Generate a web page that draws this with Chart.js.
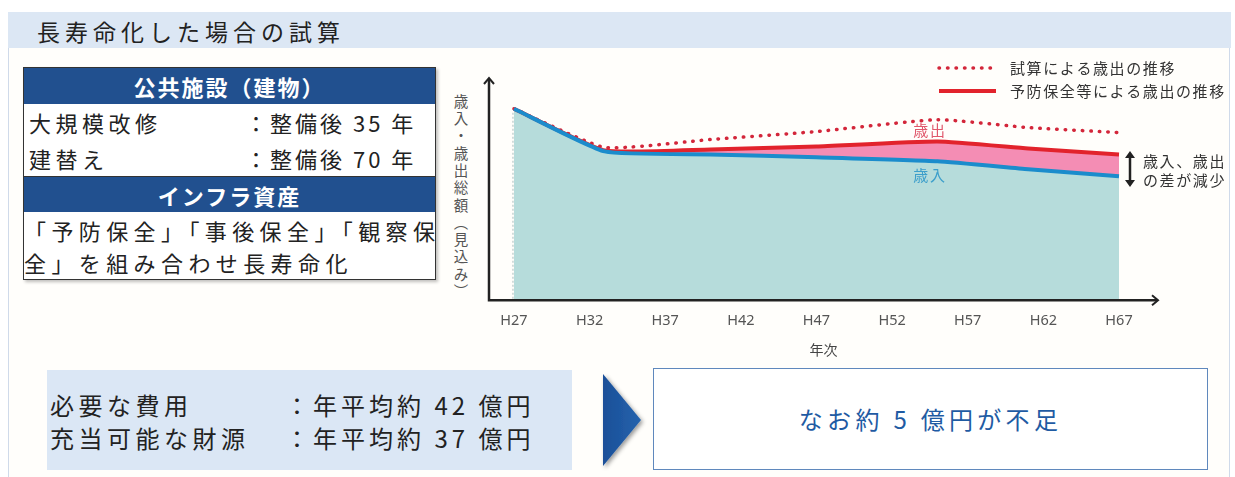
<!DOCTYPE html>
<html lang="ja">
<head>
<meta charset="utf-8">
<title>長寿命化した場合の試算</title>
<script src="https://cdn.jsdelivr.net/npm/chart.js@4.4.1/dist/chart.umd.min.js"></script>
<style>
  body { margin: 0; width: 1235px; height: 477px; overflow: hidden; background: #fff; position: relative;
         font-family: 'Noto Sans CJK JP', 'Noto Sans', sans-serif; color: #222; }
  .abs { position: absolute; }
  #panel { left: 8px; top: 12px; width: 1222px; height: 470px; border: 1px solid #cfdaea; background: #fffefb; box-sizing: border-box; }
  #head { left: 8px; top: 12px; width: 1223px; height: 36px; background: #dce7f4; }
  #head span { position: absolute; left: 29px; top: 0; font-size: 23px; line-height: 38px; letter-spacing: 5px; color: #222; }

  #table { left: 23px; top: 67px; width: 413px; height: 213px; border: 1.5px solid #333; box-sizing: border-box;
           background: #fff; box-shadow: 2px 2px 3px rgba(0,0,0,0.25); }
  #table .hdr { position: absolute; left: 0; width: 100%; background: #21508f; color: #fff; font-weight: bold;
                font-size: 22px; letter-spacing: 2px; text-align: center; }
  #table .row { position: absolute; left: 0; width: 100%; font-size: 22px; letter-spacing: 4.5px; white-space: nowrap; }
  #table .row .r { position: absolute; left: 221px; letter-spacing: 3px; }

  #need { left: 47px; top: 370px; width: 525px; height: 100px; background: #dbe7f5; }
  #need div { position: absolute; left: 3px; font-size: 24px; letter-spacing: 4.5px; white-space: nowrap; line-height: 32px; }
  #need .r { left: 238px; letter-spacing: 4px; }

  #result { left: 653px; top: 368px; width: 555px; height: 102px; border: 1px solid #5f88bd; box-sizing: border-box; background: #fff;
            color: #1f5ba3; font-size: 24px; letter-spacing: 4.3px; text-align: center; line-height: 100px; }

  #ytitle { left: 453px; top: 94px; writing-mode: vertical-rl; font-size: 14.5px; letter-spacing: 2.8px; color: #555; line-height: 1; }
  #chart { left: 440px; top: 55px; }
</style>
</head>
<body>
<div id="panel" class="abs"></div>
<div id="head" class="abs"><span>長寿命化した場合の試算</span></div>

<div id="table" class="abs">
  <div class="hdr" style="top:0;height:36px;line-height:36px;">公共施設（建物）</div>
  <div class="row" style="top:36px;height:37px;line-height:37px;"><span style="padding-left:5px">大規模改修</span><span class="r">：整備後 35 年</span></div>
  <div class="row" style="top:73px;height:35px;line-height:35px;"><span style="padding-left:5px">建替え</span><span class="r">：整備後 70 年</span></div>
  <div class="hdr" style="top:108px;height:36px;line-height:36px;border-top:1.5px solid #333;box-sizing:border-box;">インフラ資産</div>
  <div class="row" style="top:144px;height:34px;line-height:36px;letter-spacing:5.4px;">「予防保全」「事後保全」「観察保</div>
  <div class="row" style="top:178px;height:34px;line-height:32px;letter-spacing:5.4px;">全」を組み合わせ長寿命化</div>
</div>

<div id="ytitle" class="abs">歳入・歳出総額（見込み）</div>
<canvas id="chart" class="abs" width="795" height="310"></canvas>

<div id="need" class="abs">
  <div style="top:19px">必要な費用</div><div class="r" style="top:19px">：年平均約 42 億円</div>
  <div style="top:52px">充当可能な財源</div><div class="r" style="top:52px">：年平均約 37 億円</div>
</div>

<svg class="abs" style="left:596px;top:368px;overflow:visible" width="56" height="104">
  <defs>
    <linearGradient id="ag" x1="0" y1="0" x2="1" y2="0">
      <stop offset="0" stop-color="#1a4f98"/><stop offset="1" stop-color="#2563ad"/>
    </linearGradient>
    <filter id="sh" x="-50%" y="-20%" width="200%" height="140%">
      <feDropShadow dx="2" dy="2" stdDeviation="2" flood-color="#000" flood-opacity="0.4"/>
    </filter>
  </defs>
  <polygon points="7,6 45,52 7,98" fill="url(#ag)" filter="url(#sh)"/>
</svg>

<div id="result" class="abs">なお約 5 億円が不足</div>

<script>
// 年次（平成）と各系列の値（グラフから読み取った相対値）
const years = [27, 33, 40, 47, 55, 61, 67];
const revenue = [96.5, 75, 73.5, 72, 70, 66, 62.5];              // 歳入
const expenditureMaint = [96.5, 75.5, 76, 77.5, 80, 76.5, 73.5]; // 予防保全等による歳出
const expenditureTrial = [96.5, 77, 81, 85, 91, 87, 84.5];       // 試算による歳出
const tickYears = [27, 32, 37, 42, 47, 52, 57, 62, 67];
const tickLabels = ['H27', 'H32', 'H37', 'H42', 'H47', 'H52', 'H57', 'H62', 'H67'];
const legendLabels = ['試算による歳出の推移', '予防保全等による歳出の推移'];
const xTitle = '年次';

const JP = "'Noto Sans CJK JP', sans-serif";

function pts(values) {
  return years.map((yr, i) => ({ x: yr, y: values[i] }));
}

const overlay = {
  id: 'overlay',
  afterDraw(chart) {
    const { ctx, chartArea: a, scales: { x, y } } = chart;
    const x0 = a.left, y0 = a.bottom, yTop = a.top;
    const xEnd = x.getPixelForValue(tickYears[tickYears.length - 1]) + 39;
    ctx.save();

    // start edge of the area
    const xs = x.getPixelForValue(years[0]);
    ctx.strokeStyle = '#a9bdbd';
    ctx.lineWidth = 1;
    ctx.setLineDash([2, 2]);
    ctx.beginPath();
    ctx.moveTo(xs - 1, y.getPixelForValue(revenue[0]) + 4);
    ctx.lineTo(xs - 1, y0);
    ctx.stroke();

    // axes with arrows
    ctx.setLineDash([]);
    ctx.strokeStyle = '#222';
    ctx.lineWidth = 2.5;
    ctx.beginPath();
    ctx.moveTo(x0, y0 + 1.25);
    ctx.lineTo(x0, yTop + 1);
    ctx.moveTo(x0 - 1.25, y0);
    ctx.lineTo(xEnd - 1, y0);
    ctx.stroke();
    ctx.lineWidth = 2;
    ctx.beginPath();
    ctx.moveTo(x0 - 5, yTop + 6);
    ctx.lineTo(x0, yTop);
    ctx.lineTo(x0 + 5, yTop + 6);
    ctx.moveTo(xEnd - 6, y0 - 5);
    ctx.lineTo(xEnd, y0);
    ctx.lineTo(xEnd - 6, y0 + 5);
    ctx.stroke();

    // x axis title, centred under the drawn axis
    ctx.font = '14px ' + JP;
    ctx.fillStyle = '#444';
    ctx.textAlign = 'center';
    ctx.textBaseline = 'middle';
    ctx.fillText(xTitle, (x0 + xEnd) / 2, y0 + 49);

    // legend
    ctx.textAlign = 'left';
    ctx.letterSpacing = '1.6px';
    ctx.font = '15px ' + JP;
    const legendSets = [chart.data.datasets[2], chart.data.datasets[1]];
    legendSets.forEach((ds, i) => {
      const ly = 13 + i * 23;
      ctx.strokeStyle = ds.borderColor;
      ctx.lineWidth = ds.borderWidth;
      ctx.setLineDash(ds.borderDash || []);
      ctx.lineCap = ds.borderCapStyle || 'butt';
      ctx.beginPath();
      ctx.moveTo(499, ly);
      ctx.lineTo(556, ly);
      ctx.stroke();
      ctx.fillStyle = '#333';
      ctx.fillText(legendLabels[i], 570, ly);
    });
    ctx.setLineDash([]);
    ctx.lineCap = 'butt';

    // series labels
    ctx.textAlign = 'center';
    ctx.fillStyle = '#e0586c';
    ctx.fillText('歳出', x.getPixelForValue(54.5), y.getPixelForValue(85.5));
    ctx.fillStyle = '#3d9fcb';
    ctx.fillText('歳入', x.getPixelForValue(54.5), y.getPixelForValue(63));

    // gap note with double arrow
    const ax = 690;
    ctx.strokeStyle = '#222';
    ctx.fillStyle = '#222';
    ctx.lineWidth = 2.5;
    ctx.beginPath();
    ctx.moveTo(ax, 101);
    ctx.lineTo(ax, 127);
    ctx.stroke();
    ctx.beginPath();
    ctx.moveTo(ax - 5, 103); ctx.lineTo(ax, 96); ctx.lineTo(ax + 5, 103); ctx.closePath();
    ctx.moveTo(ax - 5, 125); ctx.lineTo(ax, 132); ctx.lineTo(ax + 5, 125); ctx.closePath();
    ctx.fill();
    ctx.textAlign = 'left';
    ctx.fillStyle = '#333';
    ctx.fillText('歳入、歳出', 703, 106);
    ctx.fillText('の差が減少', 703, 125);
    ctx.restore();
  }
};

new Chart(document.getElementById('chart').getContext('2d'), {
  type: 'line',
  data: {
    datasets: [
      { label: '歳入', data: pts(revenue), borderColor: '#1b8ccc', borderWidth: 4,
        backgroundColor: '#b6dcdb', fill: 'origin' },
      { label: legendLabels[1], data: pts(expenditureMaint), borderColor: '#e2232c', borderWidth: 4,
        backgroundColor: '#f48db4', fill: '-1' },
      { label: legendLabels[0], data: pts(expenditureTrial), borderColor: '#d3263a', borderWidth: 3.5,
        borderDash: [0.5, 8], borderCapStyle: 'round', fill: false }
    ]
  },
  options: {
    responsive: false,
    animation: false,
    devicePixelRatio: 1,
    layout: { padding: { left: 49, top: 23, right: 3, bottom: 23.4 } },
    elements: { point: { radius: 0 }, line: { tension: 0.15, borderJoinStyle: 'round' } },
    plugins: {
      legend: { display: false },
      tooltip: { enabled: false },
      filler: { drawTime: 'beforeDatasetsDraw' }
    },
    scales: {
      x: {
        type: 'linear',
        min: 25.35,
        max: 74.47,
        afterBuildTicks: scale => { scale.ticks = tickYears.map(v => ({ value: v })); },
        grid: { display: false, drawTicks: false },
        border: { display: false },
        ticks: {
          autoSkip: false, maxRotation: 0, padding: 12, color: '#555',
          font: { family: "'Noto Sans', sans-serif", size: 14.5 },
          callback: (v, i) => tickLabels[i]
        }
      },
      y: { display: false, min: 0, max: 112 }
    }
  },
  plugins: [overlay]
});
</script>
</body>
</html>
